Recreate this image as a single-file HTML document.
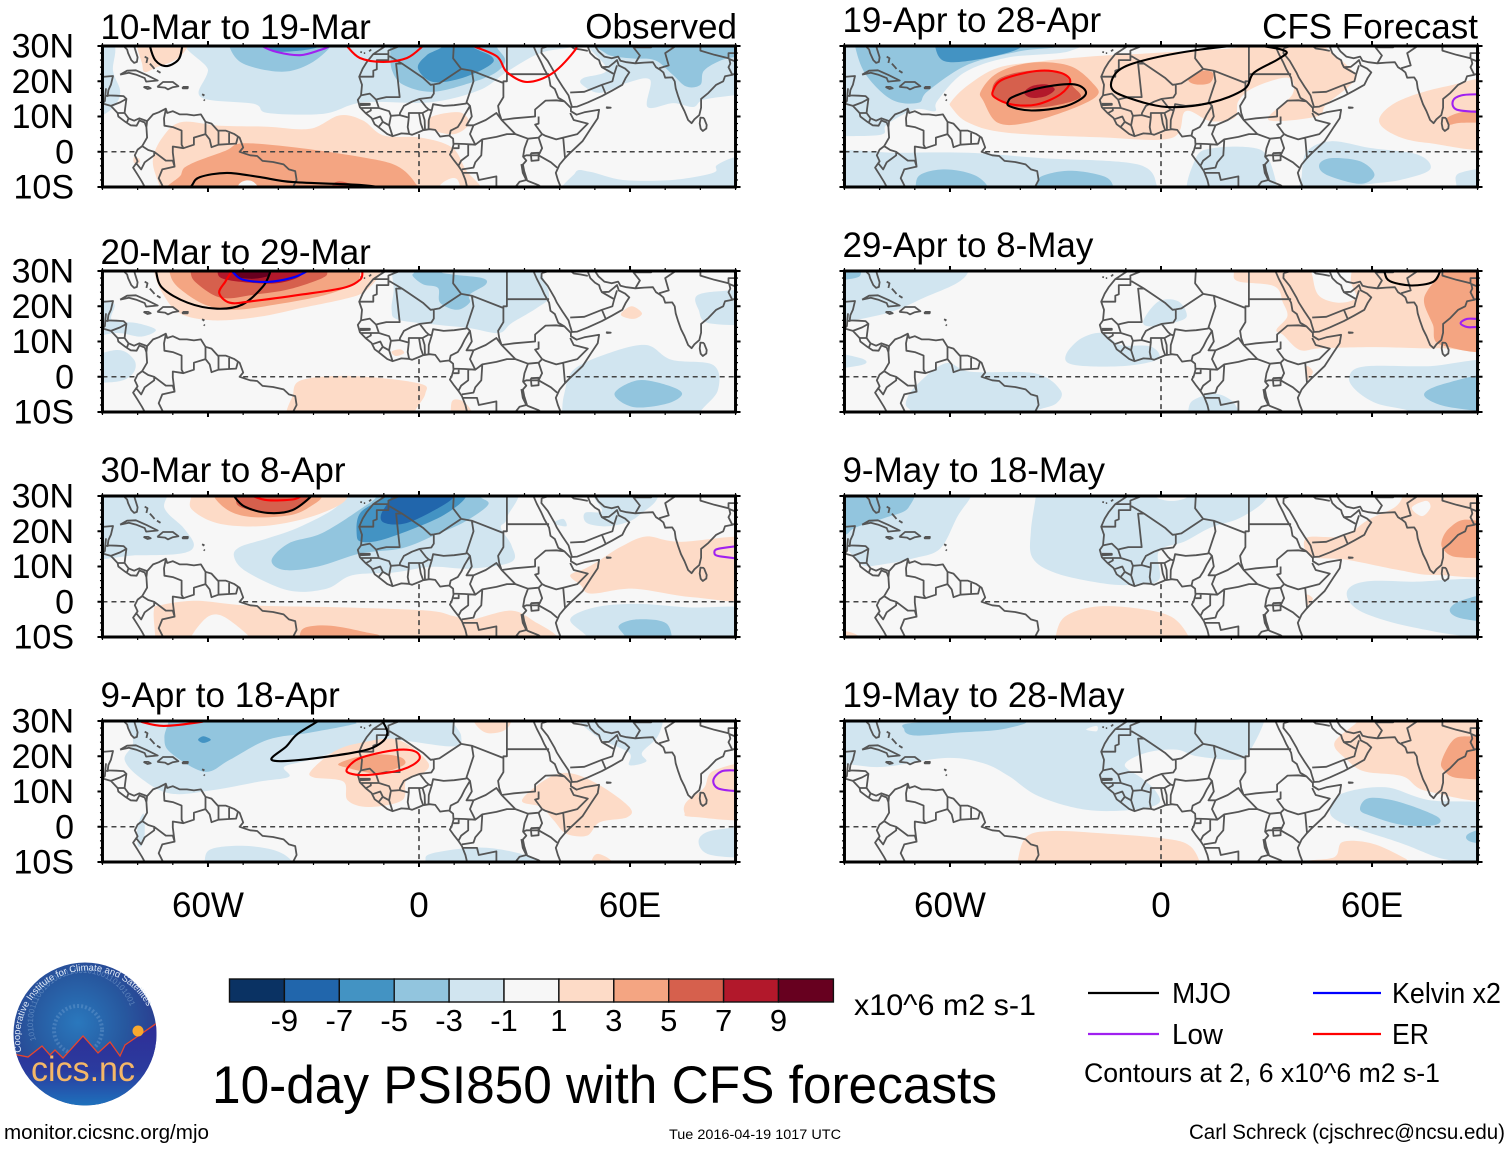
<!DOCTYPE html>
<html lang="en">
<head>
<meta charset="utf-8">
<title>10-day PSI850 with CFS forecasts</title>
<style>
html,body{margin:0;padding:0;background:#fff}
svg{display:block}
text{font-family:"Liberation Sans",sans-serif;fill:#000}
</style>
</head>
<body>
<svg id="chart" xmlns="http://www.w3.org/2000/svg" width="1510" height="1149" viewBox="0 0 1510 1149">
  <rect width="1510" height="1149" fill="#fff"/>
  <g id="panels"></g>
  <text x="737" y="38.5" font-size="35" text-anchor="end">Observed</text>
  <text x="1478" y="38.5" font-size="35" text-anchor="end">CFS Forecast</text>

  <g id="colorbar"></g>
  <text x="854" y="1015" font-size="30" textLength="182" lengthAdjust="spacingAndGlyphs">x10^6 m2 s-1</text>

  <g>
    <line x1="1088" x2="1159" y1="993" y2="993" stroke="#000" stroke-width="2.2"/>
    <text x="1172" y="1003" font-size="29" textLength="59" lengthAdjust="spacingAndGlyphs">MJO</text>
    <line x1="1313" x2="1381" y1="993" y2="993" stroke="#0000ff" stroke-width="2.2"/>
    <text x="1392" y="1003" font-size="29" textLength="109" lengthAdjust="spacingAndGlyphs">Kelvin x2</text>
    <line x1="1088" x2="1159" y1="1034" y2="1034" stroke="#a020f0" stroke-width="2.2"/>
    <text x="1172" y="1044" font-size="29" textLength="51" lengthAdjust="spacingAndGlyphs">Low</text>
    <line x1="1313" x2="1381" y1="1034" y2="1034" stroke="#ff0000" stroke-width="2.2"/>
    <text x="1392" y="1044" font-size="29" textLength="37" lengthAdjust="spacingAndGlyphs">ER</text>
    <text x="1084" y="1082" font-size="27" textLength="356" lengthAdjust="spacingAndGlyphs">Contours at 2, 6 x10^6 m2 s-1</text>
  </g>

  <text x="212" y="1103" font-size="53" textLength="785" lengthAdjust="spacingAndGlyphs">10-day PSI850 with CFS forecasts</text>
  <a><text x="4" y="1139" font-size="20.5" textLength="205" lengthAdjust="spacingAndGlyphs">monitor.cicsnc.org/mjo</text></a>
  <text x="669" y="1139" font-size="14" textLength="172" lengthAdjust="spacingAndGlyphs">Tue 2016-04-19 1017 UTC</text>
  <text x="1189" y="1139" font-size="21" textLength="316" lengthAdjust="spacingAndGlyphs">Carl Schreck (cjschrec@ncsu.edu)</text>

  <g>
    <defs>
      <radialGradient id="logoSky" cx="0.45" cy="0.42" r="0.6">
        <stop offset="0" stop-color="#2a78bd"/>
        <stop offset="0.55" stop-color="#27589f"/>
        <stop offset="1" stop-color="#2b3a8e"/>
      </radialGradient>
      <linearGradient id="logoGround" x1="0" y1="0" x2="0" y2="1">
        <stop offset="0" stop-color="#2f2d96"/>
        <stop offset="0.55" stop-color="#2b3b9e"/>
        <stop offset="1" stop-color="#1c78c0"/>
      </linearGradient>
      <clipPath id="logoClip"><circle cx="85" cy="1034" r="71.5"/></clipPath>
      <path id="logoArc" d="M 21.5 1052 A 66 66 0 1 1 153.5 1024"/>
      <path id="logoSpiral" d="M 36 1040 A 50 50 0 1 1 130 1040"/>
    </defs>
    <circle cx="85" cy="1034" r="71.5" fill="url(#logoSky)"/>
    <g clip-path="url(#logoClip)">
      <circle cx="78" cy="1030" r="24" fill="none" stroke="#7fa9d6" stroke-opacity="0.35" stroke-width="4" stroke-dasharray="2 2"/>
      <text font-size="8" style="fill:#8fb3dc" fill-opacity="0.5"><textPath href="#logoSpiral">101010011100101001110010100110101001</textPath></text>
      <path d="M 10 1053 L 18 1055 L 28 1057 L 42 1046 L 50 1055 L 55 1050 L 63 1058 L 83 1036 L 98 1053 L 110 1042 L 120 1056 L 125 1045 L 157 1023 L 165 1110 L 5 1110 Z" fill="url(#logoGround)"/>
      <path d="M 10 1053 L 18 1055 L 28 1057 L 42 1046 L 50 1055 L 55 1050 L 63 1058 L 83 1036 L 98 1053 L 110 1042 L 120 1056 L 125 1045 L 157 1023" fill="none" stroke="#e8452c" stroke-width="1.3"/>
    </g>
    <circle cx="138" cy="1031" r="5.5" fill="#f9a92f"/>
    <text font-size="9.4" style="fill:#dfe9f6"><textPath href="#logoArc">Cooperative Institute for Climate and Satellites</textPath></text>
    <text x="31" y="1081" font-size="35" textLength="104" lengthAdjust="spacingAndGlyphs" style="fill:#f5b767">cics.nc</text>
  </g>
</svg>

<script>
// ---- shared bounds beyond the frame, so shapes run off the clipped map edge ----
const W = -97, E = 97, N = 34, S = -14;

// ---- axis tick values ----
const latTicks = [30, 20, 10, 0, -10];
const latTickLabels = ['30N', '20N', '10N', '0', '10S'];
const lonTicks = [-60, 0, 60];
const lonTickLabels = ['60W', '0', '60E'];

// ---- colour scale ----
const colorbarBounds = [-9, -7, -5, -3, -1, 1, 3, 5, 7, 9];
const colorbarLabels = ['-9', '-7', '-5', '-3', '-1', '1', '3', '5', '7', '9'];
const colorbarColors = ['#0a3263', '#2166ac', '#4393c3', '#92c5de', '#d1e5f0', '#f7f7f7', '#fddbc7', '#f4a582', '#d6604d', '#b2182b', '#67001f'];

// ---- panel titles ----
const panelTitles = ['10-Mar to 19-Mar', '20-Mar to 29-Mar', '30-Mar to 8-Apr', '9-Apr to 18-Apr', '19-Apr to 28-Apr', '29-Apr to 8-May', '9-May to 18-May', '19-May to 28-May'];

// ---- filled contours: [level, [[lon, lat], ...]] ----
const panel1Fills = [
  [-1, [[-59, N], [-60, 23], [-62, 15.5], [-47, 13.6], [-43, 11], [-27, 10.8], [-16, 14], [3, 14], [17, 17.4], [25, 22.7], [34.4, 28], [43.8, 30], [44, N]]],
  [-1, [[47, N], [48, 30], [53.4, 23.2], [46.7, 20.9], [46.4, 19], [51.5, 16.7], [59, 19.5], [65.7, 20.4], [65, 12.7], [72.3, 13.8], [78, 12.7], [80.8, 14.7], [89.3, 16], [E, 17], [E, N]]],
  [-1, [[W, N], [-87, 31], [-87, 23], [-85, 17.5], [-86, 13.8], [-90, 10.4], [W, 9]]],
  [-1, [[44, S], [44.4, -6], [48.6, -5.7], [58, -8], [72, -8], [83.6, -6], [84.7, -3.8], [90, -1.5], [E, -1], [E, S]]],
  [-3, [[-54, N], [-54, 30], [-50, 25], [-39, 22.7], [-31, 25], [-25, 30], [-24, N]]],
  [-3, [[50, N], [53, 28], [60, 26.5], [67, 26], [72, 22], [76, 18.5], [80, 19], [81, 23], [86, 26], [91, 27], [E, 27], [E, N]]],
  [-3, [[-8.2, N], [-8.2, 28.9], [-7.7, 23.2], [-4.5, 19], [4, 17], [15.4, 19.8], [22, 22.6], [24.5, 26], [22, 30], [22, N]]],
  [-5, [[-46, N], [-42, 29], [-36, 28.5], [-28, 30], [-27, N]]],
  [-5, [[-.3, 23.7], [4, 19.8], [12.5, 21], [20.2, 24.6], [20.7, 27], [15, 30], [15, N], [7, N], [6.8, 30], [2.2, 27.4]]],
  [1, [[-80.2, N], [-80.2, 30], [-78.8, 25.2], [-78, 22.6], [-74.6, 24], [-69.4, 26], [-66, 29.4], [-65, N]]],
  [1, [[-67.6, 8.4], [-73, 4], [-75.7, -2.6], [-73.7, -10], [-73, S], [18, S], [17.6, -10], [13.5, -5.4], [9.4, 1.2], [.5, 4], [-10, 4.6], [-16, 8.9], [-22.6, 10.3], [-31, 6.5], [-43, 7.1], [-56.7, 7.4]]],
  [1, [[3.3, 9.8], [3.3, 6.5], [10, 5], [14.2, 8], [11.5, 11.2]]],
  [1, [[-81, -1.5], [-79.5, -2], [-79.5, -3.2], [-81, -3.2]]],
  [3, [[-67.6, -6.4], [-65, -3.5], [-55, .3], [-50, 2.4], [-35, 1.2], [-16, -1.6], [-6.3, -4], [-1, -9], [-.1, S], [-68, S]]],
  [0, [[-52, S], [-51, -9], [-47, -8.6], [-44, S]]],
  [0, [[6, -10.5], [8, -8], [11, -8], [12, S]]],
  [5, [[-24.5, -9.2], [-22.6, -8.4], [-19.5, -9.2], [-20, -10.5], [-24, -10.5]]]
];
const panel2Fills = [
  [-1, [[-7.8, N], [-7.8, 30], [-7.2, 24.8], [-7.8, 19], [-6, 16.2], [4.8, 14.8], [14.4, 13.8], [22.7, 12.4], [26.3, 15.2], [33.5, 19.5], [37, 22.9], [34.7, 30], [34.7, N]]],
  [-1, [[W, 21.4], [-87, 21], [-87.3, 16.2], [-80, 15.2], [-74.8, 13.3], [-79, 11.4], [-86, 12.4], [W, 11.4]]],
  [-1, [[W, 3.8], [-86, 7.6], [-81, 4.8], [-81.3, 1], [-86, -1.4], [W, -1]]],
  [-1, [[79.5, 19], [79, 23], [86, 24.3], [E, 24], [E, 15.7], [82.5, 15.2]]],
  [-1, [[40.7, S], [40.7, -10], [41.3, -4.8], [44, 2], [54, 6.7], [64.6, 9], [71.8, 4.8], [83.7, 3.3], [85, -3.8], [80, -10], [80, S]]],
  [-3, [[55.6, -4.8], [62.2, -1], [70.6, -2.4], [74.8, -4.8], [70.6, -7.6], [61, -8.6]]],
  [-3, [[-1.8, 28.6], [1.2, 26.2], [5.4, 25.2], [6, 21], [10.8, 19], [14.4, 21], [14.4, 23.3], [19, 26.2], [18, 28], [9.6, 29], [6, 30], [6, N], [-1.2, N], [-1.2, 30]]],
  [1, [[-37.7, S], [-37.7, -10], [-36, -5.7], [-33.5, -1], [-19, .2], [0, -1.9], [1.8, -4.8], [-1.2, -10], [-1.2, S]]],
  [1, [[9, S], [9, -10], [9.6, -6.7], [12.5, -7], [15, -10], [15, S]]],
  [1, [[57.4, 17.6], [60.4, 20], [63.4, 18], [61, 16.4]]],
  [1, [[-7.8, 7.1], [-5.4, 7.8], [-4.2, 6.7], [-6.6, 5.9]]],
  [1, [[-75.4, N], [-75.4, 30], [-73, 23.8], [-68, 18], [-58.6, 16], [-45.5, 17], [-33.5, 19.5], [-21.5, 22], [-16, 23.8], [-12, 27.6], [-10.8, 30], [-10.8, N]]],
  [3, [[-71, N], [-71, 30], [-68.8, 25.7], [-61, 20.5], [-52.6, 19], [-40.7, 20.5], [-26.3, 23.3], [-18, 26.7], [-16.7, 30], [-16.7, N]]],
  [5, [[-65, N], [-65, 30], [-63.4, 26.7], [-56.2, 22.4], [-46.7, 23.3], [-37, 24.8], [-27.5, 28], [-26, 30], [-26, N]]],
  [7, [[-57.4, N], [-57.4, 30], [-55, 27.6], [-43, 26.4], [-36, 27.5], [-32.3, 30], [-32, N]]],
  [9, [[-53, N], [-52.6, 29], [-48, 27.8], [-43, 28.5], [-42, 30], [-42, N]]]
];
const panel3Fills = [
  [-1, [[W, N], [-72.4, N], [-72.4, 26.6], [-67, 21], [-64, 16.1], [-67.6, 13.7], [-80, 13.2], [W, 13.7]]],
  [-1, [[-21.5, N], [-22.7, 27.6], [-33.5, 21.4], [-43, 18], [-50.8, 15.6], [-52.6, 12.8], [-49, 8.5], [-37, 3.2], [-26.3, 3.7], [-19, 7.5], [-7.2, 8.3], [3.6, 9.9], [14.4, 9.4], [26.3, 11.3], [26.3, 16], [23.3, 21], [25, 23.8], [25, N]]],
  [-1, [[49.6, N], [49.6, 30], [52, 25.7], [47.2, 25.2], [47.8, 22.3], [53.8, 21.4], [59.8, 22.8], [63.4, 25.2], [67.6, 29], [67.6, N]]],
  [-1, [[38.3, 22.3], [41.9, 21.4], [41, 23.5]]],
  [-1, [[43, -5], [50, -1.6], [62, -.6], [76.5, -1.6], [E, -2.5], [E, S], [47.8, S], [47.8, -10]]],
  [-3, [[-41.9, 11.8], [-38.3, 9], [-28.7, 10], [-16.7, 13.7], [-4.8, 15.2], [4.8, 19], [13.2, 22.8], [19.7, 27.6], [17.3, 30], [17.3, N], [-12, N], [-12, 30], [-16, 26.7], [-27.5, 19.5], [-37, 16.6]]],
  [-3, [[56.8, -6.8], [62, -5], [70.6, -6.4], [70.6, S], [58.6, S], [58.6, -10]]],
  [-5, [[-17.7, 19], [-16.3, 17], [-10.8, 17.5], [-1.2, 20.9], [7.2, 24.7], [13.2, 29.5], [13.2, N], [-9.6, N], [-9.6, 30], [-16.7, 25.2]]],
  [-7, [[-10.8, 24.7], [-9.6, 22.3], [-3.6, 22.3], [4.8, 26.2], [10.2, 30], [10.2, N], [-7.8, N], [-7.8, 30]]],
  [1, [[-64.8, N], [-64.8, 30], [-64.6, 26.2], [-57.4, 22.3], [-45.5, 21.4], [-33.5, 23.3], [-24, 26.7], [-20.3, 29.7], [-20.3, N]]],
  [1, [[43, 7.5], [47.2, 9.4], [51.4, 11.8], [57.4, 15.6], [64.6, 18.5], [74, 17], [E, 17.5], [E, 1.3], [77.8, 1.3], [61, 3.7], [49, 2.3], [46, 4.7]]],
  [1, [[-75.4, -2.5], [-73.6, -1], [-63.4, .3], [-49, -1], [-21.5, -1.6], [2.4, -2.5], [9.6, -4], [15, -5], [26.3, -2.5], [33.5, -6], [39.5, -10], [40, S], [-75, S], [-75, -10]]],
  [0, [[-65, S], [-61, -5], [-55, -4.5], [-46, S]]],
  [3, [[-58.4, N], [-58.4, 30], [-53.8, 25.7], [-46.7, 24], [-36, 24.7], [-30, 27.6], [-27.5, 30], [-27.5, N]]],
  [3, [[-34, S], [-34, -10], [-32.3, -7.3], [-25, -6.8], [-14.4, -8.8], [-10.8, -10], [-10.8, S]]],
  [5, [[-52, N], [-52, 30], [-51, 27], [-43, 25.2], [-34.7, 26.7], [-30.5, 30], [-30.5, N]]]
];
const panel4Fills = [
  [-1, [[-83, N], [-83, 30], [-81.3, 23.8], [-83.7, 19], [-79, 13.7], [-70.6, 9.4], [-58.6, 10.4], [-45.5, 12.8], [-37, 14.2], [-38.3, 17], [-31, 19], [-16.7, 23.3], [-7.2, 24.7], [9.6, 22.8], [12, 25.7], [9.6, 30], [9.6, N]]],
  [-1, [[45.5, N], [45.5, 30], [52, 24.7], [59.8, 21], [59.8, 17.5], [64.6, 18.5], [63.4, 21], [67.6, 25.2], [69.4, 30], [69.4, N]]],
  [-1, [[-80, 0], [-78.3, 3.7], [-78, -2], [-78.9, -5.4], [-80, -5]]],
  [-1, [[-61, S], [-61, -10], [-59.2, -6.4], [-50.2, -5.4], [-40.7, -6.8], [-36, -10], [-36, S]]],
  [-1, [[1.8, S], [1.8, -10], [3.6, -7.6], [16.7, -5.9], [27.5, -7.3], [34, -10], [34, S]]],
  [-1, [[79.5, -4], [83.7, -1], [E, -.6], [E, -8], [83, -8]]],
  [-3, [[-72.4, 25.2], [-70.6, 21], [-61, 15.6], [-53.8, 19], [-43, 24.7], [-31, 26.7], [-19, 29], [-18, 30], [-18, N], [-71.2, N], [-71.2, 30]]],
  [-5, [[-62.8, 24.7], [-61.3, 25.7], [-59.2, 24.7], [-61.3, 23.8]]],
  [1, [[-30.5, 16.1], [-24, 21.4], [-16.7, 23.8], [-6, 24.7], [2.4, 18.5], [1.2, 15.2], [-3.6, 13.2], [-4.8, 7.5], [-14.4, 5.6], [-20.3, 7.5], [-21.5, 12.8], [-30, 14]]],
  [1, [[15.5, N], [15.5, 30], [19, 26.7], [24, 27.2], [26.3, 30], [26.3, N]]],
  [1, [[E, 17.5], [84, 16], [81, 11], [76, 7], [75.5, 4], [78, 2.8], [E, 3]]],
  [1, [[29.3, 7.5], [36.5, 13.7], [43, 15.2], [51.4, 11.8], [59.8, 5.6], [59.2, 2.7], [51.4, 1.3], [47.8, -2.5], [41.9, -2], [38.3, 1.8], [34.7, 5.6]]],
  [1, [[49, S], [49, -10], [50.8, -7.7], [55, -10], [55, S]]],
  [3, [[-22.7, 18], [-14.4, 20.4], [-6, 20], [-4.2, 17.6], [-12, 15.2], [-20.3, 16.7]]]
];
const panel5Fills = [
  [-1, [[W, N], [-24, N], [-25.8, 28.6], [-43.7, 26.7], [-56, 22.4], [-63.6, 14.4], [-64.3, 11.5], [-70, 12], [-78, 7.7], [-79.4, 4.9], [-90, 4.4], [W, 4.4]]],
  [-1, [[W, -.6], [-75, -.3], [-54.7, -.3], [-34, -1.8], [-6.6, -3.6], [-1, -10], [-1, S], [W, S]]],
  [-1, [[9, S], [9.9, -1.8], [15.4, 1.1], [26.4, 1.1], [30.5, -1.8], [33, -10], [33, S]]],
  [-1, [[40, S], [40, -7], [41.5, .1], [48.4, 3], [59.3, 1.1], [73, -.8], [76.5, -5], [68, -8], [55, -10], [55, S]]],
  [-1, [[84, -10], [85, -6], [E, -5], [E, S], [84, S]]],
  [-3, [[-87, N], [-87, 30], [-84, 22], [-76.6, 14.8], [-69, 13.9], [-66.3, 17.2], [-54.7, 24.8], [-39.6, 28.6], [-28.6, 30], [-28.6, N]]],
  [-3, [[45, -3.6], [48.4, -1.8], [56.6, -2.7], [60.7, -6.5], [56.6, -9.1], [47, -6.5]]],
  [-3, [[-69.8, S], [-69.8, -10], [-68.4, -6.5], [-61.5, -5], [-53.3, -6.5], [-49.2, -10], [-49.2, S]]],
  [-3, [[-35.4, S], [-35.4, -10], [-34, -7], [-25.8, -5.4], [-16.2, -7], [-13.5, -10], [-13.5, S]]],
  [-5, [[-64.3, N], [-64.3, 30], [-61.5, 25.7], [-52, 26.2], [-40, 29.5], [-40, N]]],
  [1, [[-59.5, 14.4], [-54.7, 19], [-46.4, 23.8], [-34, 25.7], [-17.6, 27.2], [-2.5, 28], [25, 30], [25, N], [40, N], [48, 28.6], [55.2, 22], [53.9, 19], [47, 13.4], [44.2, 10], [30.5, 9.1], [37.4, 16.3], [36, 21], [26.4, 18.2], [22, 14.4], [20.9, 9.6], [14, 8.7], [7, 11.5], [3, 3.9], [-17.6, 4.1], [-43.7, 5.4], [-54.7, 8.2], [-59.5, 12.5]]],
  [1, [[62, 9.1], [67.6, 14.4], [81.3, 18.6], [E, 20], [E, 1.6], [75.8, 2.5], [66.2, 4.9]]],
  [3, [[-50.5, 14.4], [-51.2, 17.2], [-46.4, 22.4], [-36.8, 25.3], [-25.8, 24.3], [-19, 19], [-18.3, 15.8], [-25.8, 12], [-38, 8.2], [-46.4, 8.2]]],
  [3, [[7.8, 20.5], [11.3, 22.9], [14.7, 22.4], [14, 19.6], [9.9, 19.1]]],
  [3, [[81.3, 9.6], [86.8, 11.5], [E, 12], [E, 8.7], [85.4, 8.2], [82, 7.7]]],
  [5, [[-47.8, 16.3], [-46.4, 20.5], [-38.2, 22.9], [-28.6, 22.4], [-25.1, 18.6], [-23, 15.3], [-31.3, 12.9], [-39.6, 12.5], [-43.7, 13.4]]],
  [7, [[-38.9, 16.7], [-36.8, 18.6], [-32.7, 19.1], [-30.2, 17.7], [-32.7, 15.8], [-36.8, 15.3]]]
];
const panel6Fills = [
  [-1, [[W, 16.7], [-79.7, 17.6], [-66.3, 22.9], [-57.8, 26.7], [-54.7, 30], [-54.7, N], [W, N]]],
  [-1, [[W, 7.1], [-85.2, 5.2], [-85.2, 3.3], [W, 2.4]]],
  [-1, [[-4.9, 16.2], [-.6, 21.4], [4.9, 21.4], [7.3, 17.1], [3, 15.2], [-3.6, 14.3]]],
  [-1, [[-26.8, 6.7], [-22.5, 11], [-16.4, 12.4], [-11.6, 9], [-3, 8.6], [-.6, 5.2], [-7.9, 3.3], [-18.9, 2.9], [-26.2, 3.8]]],
  [-1, [[-72.6, -7.6], [-70, -2.9], [-61.4, 3.8], [-54, 1.4], [-35.9, 1], [-28.6, -3.8], [-29.8, -7.6], [-35.9, -10], [-36, S], [-71, S], [-71, -10]]],
  [-1, [[7.7, S], [7.7, -10], [9.1, -6.7], [15.2, -4.8], [20, -6.7], [22, -10], [22, S]]],
  [-1, [[53.5, 0], [57.8, 2.9], [76, 3], [E, 3.8], [E, S], [71.2, S], [71.2, -10], [61.4, -7.6], [55.4, -3.8]]],
  [-3, [[W, N], [W, 27.6], [-87, 28], [-85.2, 30], [-85.2, N]]],
  [-3, [[74.8, -5.2], [80.9, -1.9], [E, .8], [E, -9], [82, -8.6]]],
  [1, [[20.7, N], [20.7, 30], [21.9, 27.1], [32.2, 25.7], [34.7, 21], [35.9, 17.1], [32.8, 13.3], [34.7, 11.9], [39.5, 7.6], [45.6, 8.1], [61.4, 8.4], [78.5, 8.1], [E, 9.5], [E, N]]],
  [0, [[43.2, 28], [45, 22.9], [50.5, 21], [55.4, 22.4], [54, 27], [53.5, N], [43, N]]],
  [1, [[41.4, -1], [41.4, 3], [43.2, 1.4]]],
  [3, [[74.8, 21], [76, 24.8], [79.7, 29.5], [80, N], [E, N], [E, 9], [79.7, 9], [77.3, 14.8]]]
];
const panel7Fills = [
  [-1, [[W, N], [-54, N], [-54, 30], [-57.8, 24.3], [-62.7, 15.2], [-70, 12.4], [-79.7, 10.5], [-85, 10.5], [-90, 15.2], [W, 15.2]]],
  [-1, [[-35.6, N], [-35.6, 30], [-37, 20], [-36.5, 12.4], [-29.8, 8.1], [-16.4, 5.2], [-7.9, 4.8], [-.6, 6.2], [-.6, 14.3], [6.7, 17.1], [14, 21], [22.5, 23.8], [29.8, 29], [29.8, N]]],
  [0, [[-1.8, N], [-1.8, 30], [3, 28.6], [7.9, 30], [7.9, N]]],
  [-1, [[52.9, 2.9], [57.8, 5.7], [71.2, 5.7], [E, 4.8], [E, S], [90, -10.5], [78.5, -8.6], [65, -5.7], [55.4, -1.9]]],
  [-3, [[W, N], [-71.8, N], [-71.8, 26.7], [-78.5, 23.8], [-87, 21], [-90, 19], [W, 19]]],
  [-3, [[82.1, -2.4], [85.8, .5], [E, 2.4], [E, -5.2], [85.8, -4.8]]],
  [1, [[41.4, 18.1], [51.7, 18.6], [59, 23.3], [66.3, 26.7], [68.7, 30], [68.7, N], [E, N], [E, 9.5], [78.5, 7.6], [67.5, 9], [52.9, 11.9], [42.6, 12.9]]],
  [0, [[71.3, 26.7], [75.4, 28.6], [76.6, 26.7], [74.2, 24.3]]],
  [1, [[-30, S], [-30, -10], [-27.4, -4.3], [-18.9, -1.4], [-6.7, -1.9], [3, -4.3], [7.9, -10], [7.9, S]]],
  [1, [[W, -8.3], [-90, -8.3], [-85.8, -10], [-85.8, S], [W, S]]],
  [1, [[41.4, -1], [41.4, 2], [43.2, .8]]],
  [3, [[79.9, 17.6], [82.1, 21], [87, 23.3], [E, 20.5], [E, 13.3], [84.6, 12.6], [80.3, 14.8]]]
];
const panel8Fills = [
  [-1, [[W, N], [29.2, N], [29.2, 29.5], [24.9, 21], [21.3, 19], [10.3, 20], [4.3, 21.9], [-4.2, 21], [-10.3, 17.6], [-5.5, 13.8], [-1.8, 10.5], [-.6, 6.7], [-7.9, 4.8], [-21.3, 4.8], [-34.7, 8.6], [-43.2, 14.3], [-50.5, 18], [-61.4, 19.5], [-78.5, 17], [-88, 17.6], [W, 18]]],
  [0, [[-21.3, 27.6], [-18.3, 28.6], [-18.3, 27.1]]],
  [-1, [[48, 4.8], [51.7, 9.5], [63.9, 11.2], [76, 7.6], [E, 4.8], [E, S], [90, -10.5], [79.7, -9], [68.7, -4.8], [51.7, .95]]],
  [-3, [[-73, 27.6], [-70, 29.5], [-39.5, 30], [-45.6, 27.6], [-57.8, 26.7], [-70, 25.9]]],
  [-3, [[56.6, 4.8], [59, 8.1], [67.5, 7.1], [78.5, 2.9], [77.9, .5], [68.7, .5], [60.2, 2.9]]],
  [-3, [[87.6, -1.9], [E, .5], [E, -4.8], [88.2, -4.3]]],
  [1, [[57, N], [56, 30], [49.3, 23.8], [52.9, 19], [57.8, 15.7], [68.7, 14.3], [76, 10], [E, 9], [E, N]]],
  [1, [[-40.8, S], [-40.8, -10], [-38.3, -2.9], [-31, -1.2], [-16.4, -1.9], [.6, -3.3], [7.9, -5.2], [11, -10], [11, S]]],
  [1, [[40.8, S], [40.8, -10], [49.3, -8.6], [51.7, -4.3], [60.2, -4.8], [68.7, -8.6], [70, -10], [70, S]]],
  [3, [[79.9, 19], [83.3, 24.8], [88.2, 25.7], [E, 25.7], [E, 14.8], [84.6, 13.8], [80.3, 16.2]]]
];

// ---- line contours: [series, closed, [[lon, lat], ...]] ----
const panel1Contours = [
  ['MJO', true, [[-77, N], [-76.5, 30], [-75, 26], [-72, 24.3], [-68.5, 26], [-67.4, 29.5], [-67, N]]],
  ['MJO', false, [[-65.5, -11], [-64.5, -9.4], [-62.3, -7.2], [-54.6, -6], [-45.2, -7.2], [-35.8, -8.6], [-16.8, -9.4], [-8, -10.5]]],
  ['ER', false, [[-21, 31], [-20.5, 30], [-16.8, 26.6], [-10.2, 25.5], [-3.4, 26.6], [1.1, 30], [2, 31]]],
  ['ER', false, [[14, 31], [15.4, 30], [22.2, 27], [25, 22.6], [30.7, 19.8], [38, 22.3], [44.4, 28.9], [44.4, 31]]],
  ['Low', false, [[-45, 31], [-44.6, 30], [-40.4, 28.3], [-33.8, 27.4], [-28, 28.9], [-25.3, 30], [-24, 31]]]
];
const panel2Contours = [
  ['MJO', false, [[-75, 31], [-74.8, 30], [-73, 25.2], [-65.8, 21], [-57.4, 19.3], [-50.2, 20.5], [-44.3, 25.7], [-42.2, 30], [-42, 31]]],
  ['ER', false, [[-16, 31], [-16.1, 30], [-16.7, 27.6], [-21.5, 25.2], [-33.5, 23.3], [-47.8, 21.4], [-53.8, 21], [-56.8, 23.8], [-55, 27.1], [-53.2, 30], [-53, 31]]],
  ['Kelvin', false, [[-54, 31], [-53.2, 30], [-50.2, 27.6], [-43, 26.9], [-36, 28.1], [-31.7, 30], [-31, 31]]]
];
const panel3Contours = [
  ['ER', false, [[-48, 31], [-47.2, 30], [-43, 28.8], [-36, 29], [-33.5, 30], [-33, 31]]],
  ['MJO', false, [[-53, 31], [-52.6, 30], [-49.6, 27], [-43, 25.2], [-36, 26], [-30.5, 30], [-30, 31]]],
  ['Low', true, [[E, 16], [86, 15.2], [84, 14], [86, 12.8], [E, 12.2]]]
];
const panel4Contours = [
  ['ER', false, [[-80, 30.5], [-78.7, 29.7], [-72.6, 28.6], [-62.2, 29.7], [-60, 30.5]]],
  ['MJO', false, [[-28, 31], [-28.7, 30], [-34.7, 26.2], [-37.7, 22.8], [-41.9, 19], [-33.5, 19], [-16.7, 21.4], [-10.8, 23.8], [-9, 26.6], [-10.2, 29.7], [-11, 31]]],
  ['ER', true, [[-20.3, 16.7], [-16.7, 19.5], [-7.2, 21.7], [-1.2, 21.4], [0, 19], [-4.8, 16.2], [-14.4, 14.7], [-19.8, 15.2]]],
  ['Low', false, [[E, 16], [90.3, 16], [86, 15.7], [83.7, 13.3], [85, 10.9], [90.3, 10.1], [E, 10]]]
];
const panel5Contours = [
  ['ER', true, [[-47.8, 17.2], [-45, 20.5], [-35.4, 22.9], [-28.6, 22.4], [-25.8, 20], [-28.6, 16.3], [-35.4, 13.4], [-42.3, 13.4], [-47.1, 15.3]]],
  ['MJO', true, [[-43.4, 14.4], [-41.6, 15.8], [-34, 18.2], [-24.5, 19.1], [-21.4, 16.3], [-27.2, 12.9], [-36.8, 11.7], [-43, 12.9]]],
  ['MJO', true, [[-14.1, 18.2], [-12, 23.1], [-3.8, 26.2], [11.3, 29], [25, 30.2], [35.3, 28.6], [33.2, 26.2], [26.4, 22.4], [23.6, 17.7], [14, 13.9], [1.6, 12.7], [-9.3, 15.3]]],
  ['Low', false, [[E, 16.3], [90.3, 16.3], [85.4, 16], [83, 14.4], [84, 12], [90.3, 11.3], [E, 11.3]]]
];
const panel6Contours = [
  ['MJO', false, [[63.5, 31], [63.6, 29.5], [65.1, 27.1], [71.2, 25.9], [77.3, 26.9], [79.4, 30], [79.5, 31]]],
  ['Low', false, [[E, 16.4], [90, 16.4], [87, 16.4], [85.2, 15.2], [87, 14.1], [90, 14.1], [E, 14.1]]]
];
const panel7Contours = [];
const panel8Contours = [];

// ---- geography: polylines as [lon, lat] ----
const coastLines = [
  [[-84, 30], [-83, 29], [-82.7, 28], [-81.8, 26], [-81, 25.2], [-80.2, 25.5], [-80, 26.8], [-81, 30], [-81.3, 31]],
  [[-90.5, 21.2], [-87, 21.5], [-87.6, 19], [-88.3, 17.5], [-88.5, 16], [-86, 15.9], [-84, 15.8], [-83.2, 15], [-83.6, 12], [-83.7, 11], [-82.6, 9.5], [-81, 8.8], [-79.5, 9.5], [-77.3, 8.7], [-75.6, 10.6], [-74, 11.2], [-72, 12.2], [-71.6, 11], [-70, 11.5], [-68, 10.6], [-66, 10.6], [-64, 10.3], [-62, 10.6], [-60.7, 8.5], [-59, 8], [-57.2, 6], [-55, 6], [-52.5, 5], [-51, 4], [-50, 1.2], [-51, 0], [-49, -.7], [-48, -1], [-46, -1.2], [-44.5, -2.6], [-41.5, -2.9], [-38.5, -3.6], [-37, -5], [-35.2, -5.5], [-34.8, -8], [-36, -10.3]],
  [[-92, 14], [-90, 13.7], [-87.6, 13], [-85.7, 11], [-85.5, 10], [-83.5, 8.5], [-82, 7.5], [-80.3, 7.4], [-79.5, 8.9], [-78, 8.3], [-77.5, 7], [-77.3, 4], [-78.7, 1.6], [-80, .6], [-80.8, -1], [-80, -2.7], [-81.3, -4.5], [-80, -6.5], [-78.8, -8.5], [-77.8, -10.3]],
  [[-9.6, 31], [-9.8, 29.8], [-13, 27.7], [-14.8, 25.5], [-16, 23.6], [-17, 21.3], [-16.2, 19], [-16.5, 16], [-17.4, 14.7], [-16.8, 12.6], [-15.2, 11], [-13.5, 9.6], [-12.6, 7.8], [-11.4, 6.9], [-9, 5], [-7.5, 4.4], [-5, 5.2], [-3, 5.1], [-2, 4.8], [0, 5.6], [1.2, 6.1], [3, 6.4], [4.6, 6.2], [6, 4.3], [7.5, 4.5], [8.6, 4.6], [9.7, 3.7], [9.8, 2], [9.4, .5], [8.8, -.8], [10, -2.5], [11.2, -4], [12.2, -5.5], [13.2, -8], [13.8, -10.5]],
  [[32.5, 31], [32.6, 29.8], [33.5, 27.8], [34.7, 25.5], [35.6, 23.5], [37, 21], [37.4, 18.7], [38.6, 17.8], [39.6, 15.3], [41.3, 14.3], [43.2, 12.4], [43.2, 11.5], [44.8, 10.5], [47, 11.2], [51.2, 11.9], [50.8, 9.5], [49, 6.8], [46.5, 3], [43, -.3], [41.5, -1.8], [40, -3.6], [38.9, -6], [39.5, -8], [40.5, -10.5]],
  [[34.9, 29.4], [34.8, 28], [36.6, 25.8], [38.5, 22.5], [39.2, 21], [40.8, 18.5], [42.5, 16], [42.9, 14.6], [43.5, 12.7], [45, 12.8], [48, 14], [52, 15.8], [55, 17.4], [57.8, 19], [58.8, 21], [59.8, 22.5], [58.6, 23.6], [56.8, 24.5], [56.3, 26], [55.5, 25.3], [54, 24.1], [52, 24], [51.5, 25], [51.2, 26], [50, 26.7], [48.7, 28], [48, 29.8], [48.6, 30]],
  [[48.6, 30], [50, 30], [51, 28.5], [52.7, 27], [54.8, 26.5], [56.6, 27], [57.3, 25.8], [59, 25.4], [61.5, 25.1], [64, 25.3], [66.5, 25.4], [67.4, 24], [68.5, 23.3], [69.5, 22.5], [70, 21], [72, 21.1], [72.7, 20], [73, 18], [73.6, 16], [74.5, 13.5], [75.5, 11.5], [76.5, 9], [77.5, 8.1], [78.3, 9.2], [79.7, 10.4], [80.2, 12.5], [80.2, 15], [82.3, 16.7], [84.5, 19], [86.5, 20], [87, 21.4], [89, 21.8], [91, 22.6], [92, 21]],
  [[81, 9.6], [80, 9.7], [79.8, 8], [80.1, 6.5], [80.7, 5.9], [81.7, 6.6], [81.8, 7.6], [81, 9.6]],
  [[-85, 21.9], [-83, 23], [-80.5, 23.1], [-77.5, 21.8], [-74.3, 20.2], [-77.6, 19.9], [-78, 20.9], [-80.5, 21.9], [-82.5, 22.4], [-85, 21.9]],
  [[-74.4, 18.4], [-72.8, 19.8], [-70, 19.8], [-68.4, 18.6], [-70, 18.3], [-71.4, 17.7], [-72.2, 18.2], [-74.4, 18.4]],
  [[-78.3, 18.4], [-77, 18.4], [-76.3, 18], [-77.2, 17.8], [-78.3, 18.4]],
  [[-67.2, 18.4], [-65.7, 18.4], [-65.8, 18], [-67.2, 18], [-67.2, 18.4]],
  [[-78, 27], [-77.2, 26.5], [-77.5, 25.2]],
  [[-76.5, 25], [-75.6, 24], [-75.2, 23.5]],
  [[-74.5, 23], [-73.5, 22.4]],
  [[-61.7, 16.3], [-61.2, 16.1], [-61.5, 15.9]],
  [[-61.2, 14.8], [-60.9, 14.5]],
  [[-16.7, 28.3], [-16.2, 28.2]],
  [[-15.7, 28], [-15.3, 28]],
  [[-14.2, 28.5], [-13.6, 29]],
  [[53.2, 12.6], [54.5, 12.5], [53.5, 12.4], [53.2, 12.6]]
];
const borderLines = [
  [[-13, 27.7], [-8.7, 27.7], [-8.7, 26], [-12, 26], [-12, 23.4], [-13, 23], [-13, 21.3], [-17, 21.3]],
  [[-8.7, 27.7], [-8.7, 28.7], [-5.5, 30], [-3, 31]],
  [[-8.7, 27.3], [-4.8, 25], [-6.5, 25], [-5.5, 15.5], [-9.3, 15.5], [-11.5, 15], [-12.2, 14.8]],
  [[-4.8, 25], [1.1, 21], [3.3, 19], [4.2, 19.1], [5.8, 19.4], [12, 23.5], [9.7, 26.5], [9.9, 30], [9, 31]],
  [[12, 23.5], [15, 23], [24, 19.5], [24, 20], [25, 20], [25, 31]],
  [[25, 22], [37, 22]],
  [[24, 19.5], [24, 15.5], [22.5, 13], [22.8, 11], [23.5, 9], [27.4, 5]],
  [[15, 23], [15.5, 20], [13.5, 14], [14.5, 13]],
  [[4.2, 19.1], [4.2, 16.5], [3.5, 15.4], [.2, 15]],
  [[-16.5, 16], [-14, 16.5], [-12.2, 14.8], [-11.4, 12.4], [-8.5, 11.5], [-8, 10.2], [-8.5, 7.5], [-7.5, 4.4]],
  [[-16.7, 12.4], [-11.4, 12.4]],
  [[-16.8, 13.6], [-14, 13.6], [-14, 13.3], [-16.8, 13.2]],
  [[-13.7, 12.4], [-13.7, 11.7], [-15, 11]],
  [[-13.3, 9.2], [-11, 10], [-10.3, 8.5], [-11.5, 7]],
  [[-10.3, 8.5], [-8.5, 7.5]],
  [[-8, 10.2], [-5.5, 10.4], [-5.4, 11], [-4.3, 13], [-2, 14.2], [.2, 15], [2, 12.7], [2.8, 12], [1, 11], [-2.9, 11], [-2.9, 9.7], [-5.5, 10.4]],
  [[-2.9, 9.7], [-3.2, 7], [-2.8, 5]],
  [[0, 11], [.5, 8], [1.2, 6.1]],
  [[1, 11], [1.6, 9], [1.7, 6.2]],
  [[2.7, 6.3], [2.8, 9], [3.6, 11.7], [2.8, 12]],
  [[3.6, 11.7], [4, 13.5], [7, 13], [10, 13.2], [13.5, 13.7]],
  [[8.7, 4.7], [9, 6], [11, 7], [12, 8.5], [13, 10.5], [14.5, 13], [15, 10], [13.5, 7.5], [15.5, 7.5], [14.5, 5], [16, 2], [18, 3.5], [22, 4.2], [25, 5], [27.4, 5], [31, 3.7], [34, 4], [35, 1], [34, -1], [30.5, -1], [29.6, -1.4], [30, 1], [31, 3.7]],
  [[23.5, 9], [22, 11], [19, 9], [15.5, 7.5]],
  [[9.8, 2.3], [13, 2.2], [16, 2]],
  [[9.8, 1], [11.3, 1], [11.3, 2.2]],
  [[14, 2.2], [14, -1], [12, -2.5], [11.2, -4]],
  [[18, 3.5], [17.7, -1], [16, -3], [15.5, -4.5], [12.2, -5]],
  [[12.3, -6], [16.5, -6], [17, -8], [22, -7], [22, -10.5]],
  [[23.5, 9], [27, 9.5], [33, 10], [33, 12], [36, 14.5], [39, 14.6], [41.3, 14.3]],
  [[34, 10], [34, 8], [33, 7.7], [35, 5], [34, 4]],
  [[35, 5], [36, 4.5], [39, 3.5], [41, 4], [45, 5], [48, 8], [44, 9], [43, 11]],
  [[41, 4], [41.5, -1.8]],
  [[34, -1], [37.5, -3], [39.5, -4.7]],
  [[29.6, -1.4], [30.5, -2.5], [29.2, -4], [29.5, -6], [30.5, -8], [31, -8.3], [34, -9.5], [36, -11]],
  [[27, -10.5], [28.6, -8.5], [30.5, -8]],
  [[43, 16.8], [47, 17], [52, 19], [53, 16.6]],
  [[52, 19], [55, 20], [55.5, 22], [56.3, 24.5]],
  [[52, 24], [55.5, 22]],
  [[48, 28.6], [46, 29], [44, 29.3], [42, 31]],
  [[34.9, 29.4], [37, 30], [39, 32]],
  [[48.6, 30], [47.7, 31.5]],
  [[61.5, 25.1], [62.8, 27.3], [61, 29.6], [66, 29.6], [67.5, 31]],
  [[68.3, 23.7], [71, 24.5], [70, 28], [73, 30], [74.5, 32]],
  [[80, 31], [80, 28.7], [84, 27.5], [88, 26.5], [88, 28], [92, 28]],
  [[88.2, 26.4], [88.5, 25], [88, 24], [89, 22]],
  [[88, 26.4], [90, 25.6], [92.5, 25]],
  [[-89, 18], [-89.2, 15.9], [-88.3, 15.8]],
  [[-89.2, 15.9], [-89.3, 14.4], [-90, 13.7]],
  [[-87.6, 13], [-85, 14], [-83.2, 15]],
  [[-85.7, 11], [-83.7, 11]],
  [[-83, 8.4], [-82.6, 9.5]],
  [[-77.3, 8.7], [-77.5, 7]],
  [[-72, 12], [-72.5, 9.5], [-72.4, 7.4], [-70, 7], [-67.5, 6], [-67.5, 2], [-67, 1], [-64, 2], [-64, 4], [-60.7, 5], [-60.7, 8.5]],
  [[-67, 1], [-70, 1.5], [-70, -.2], [-69.5, -4.2]],
  [[-60.7, 5], [-59.5, 3.5], [-59, 1.3], [-57, 2], [-57, 6]],
  [[-57, 2], [-54, 2.2], [-52, 2.3], [-51.5, 4.2]],
  [[-54, 2.2], [-54, 5.7]],
  [[-78.7, 1.6], [-77, .5], [-75.3, 0], [-75.3, -1], [-78, -3], [-79, -5], [-80.3, -3.4]],
  [[-75.3, 0], [-72, -2.5], [-70, -2.5], [-69.5, -4.2], [-73, -5], [-74, -7.5], [-72.5, -10.5]]
];
const lakeLines = [
  [[31.8, -.4], [34, -.3], [34, -2.4], [32, -2.6], [31.8, -.4]],
  [[29.1, -3.5], [29.6, -5.5], [30.7, -8], [29.9, -5.5], [29.5, -3.5]]
];

// ---- dashed reference lines, over ocean only: [from, to] ----
const equatorSegments = [[-90, -80], [-50, 9.5], [42, 90]];
const meridianSegments = [[5, -10]];

const levelColors = { '-9': '#0a3263', '-7': '#2166ac', '-5': '#4393c3', '-3': '#92c5de', '-1': '#d1e5f0', '0': '#f7f7f7', '1': '#fddbc7', '3': '#f4a582', '5': '#d6604d', '7': '#b2182b', '9': '#67001f' };
const seriesColors = { MJO: '#000000', Kelvin: '#0000ff', Low: '#a020f0', ER: '#ff0000' };

const allFills = [panel1Fills, panel2Fills, panel3Fills, panel4Fills, panel5Fills, panel6Fills, panel7Fills, panel8Fills];
const allContours = [panel1Contours, panel2Contours, panel3Contours, panel4Contours, panel5Contours, panel6Contours, panel7Contours, panel8Contours];

const SVGNS = 'http://www.w3.org/2000/svg';
function make(tag, parent) {
  const el = document.createElementNS(SVGNS, tag);
  parent.appendChild(el);
  return el;
}
function round(v) { return Math.round(v * 10) / 10; }

// smooth path through lon/lat vertices using Catmull-Rom segments
function smoothPath(points, closed, xs, ys) {
  const px = points.map(function (p) { return [xs(p[0]), ys(p[1])]; });
  const n = px.length;
  const at = function (i) {
    if (closed) return px[(i + n) % n];
    return px[Math.max(0, Math.min(n - 1, i))];
  };
  let d = 'M' + round(px[0][0]) + ' ' + round(px[0][1]);
  const last = closed ? n : n - 1;
  for (let i = 0; i < last; i++) {
    const p0 = at(i - 1), p1 = at(i), p2 = at(i + 1), p3 = at(i + 2);
    d += 'C' + round(p1[0] + (p2[0] - p0[0]) / 6) + ' ' + round(p1[1] + (p2[1] - p0[1]) / 6) + ' ' +
      round(p2[0] - (p3[0] - p1[0]) / 6) + ' ' + round(p2[1] - (p3[1] - p1[1]) / 6) + ' ' +
      round(p2[0]) + ' ' + round(p2[1]);
  }
  return d + (closed ? 'Z' : '');
}
function straightPath(points, xs, ys) {
  return points.map(function (p, i) {
    return (i ? 'L' : 'M') + round(xs(p[0])) + ' ' + round(ys(p[1]));
  }).join('');
}

const root = document.getElementById('panels');
const lonScale = 3.517;
const latScale = 3.525;

function drawPanel(index) {
  const isRight = index >= 4;
  const row = index % 4;
  const originX = isRight ? 1161 : 419;
  const topY = 46 + 225 * row;
  const xs = function (lon) { return originX + lon * lonScale; };
  const ys = function (lat) { return topY + (30 - lat) * latScale; };
  const left = xs(-90), right = xs(90), top = ys(30), bottom = ys(-10);

  const g = make('g', root);
  
  

  const clip = make('clipPath', g);
  clip.setAttribute('id', 'clip' + index);
  const clipRect = make('rect', clip);
  clipRect.setAttribute('x', left);
  clipRect.setAttribute('y', top);
  clipRect.setAttribute('width', right - left);
  clipRect.setAttribute('height', bottom - top);

  const body = make('g', g);
  body.setAttribute('clip-path', 'url(#clip' + index + ')');
  
  

  const bg = make('rect', body);
  
  
  bg.setAttribute('x', left);
  bg.setAttribute('y', top);
  bg.setAttribute('width', right - left);
  bg.setAttribute('height', bottom - top);
  bg.setAttribute('fill', levelColors['0']);

  allFills[index].forEach(function (fill) {
    const path = make('path', body);
    
    
    path.setAttribute('d', smoothPath(fill[1], true, xs, ys));
    path.setAttribute('fill', levelColors[String(fill[0])]);
  });

  equatorSegments.forEach(function (seg) {
    const line = make('line', body);
    
    
    line.setAttribute('x1', xs(seg[0]));
    line.setAttribute('x2', xs(seg[1]));
    line.setAttribute('y1', ys(0));
    line.setAttribute('y2', ys(0));
    line.setAttribute('stroke', '#444');
    line.setAttribute('stroke-width', '1.6');
    line.setAttribute('stroke-dasharray', '5 4');
  });
  meridianSegments.forEach(function (seg) {
    const line = make('line', body);
    
    
    line.setAttribute('x1', xs(0));
    line.setAttribute('x2', xs(0));
    line.setAttribute('y1', ys(seg[0]));
    line.setAttribute('y2', ys(seg[1]));
    line.setAttribute('stroke', '#444');
    line.setAttribute('stroke-width', '1.6');
    line.setAttribute('stroke-dasharray', '5 4');
  });

  const geo = make('path', body);
  
  
  geo.setAttribute('d', coastLines.concat(borderLines, lakeLines).map(function (line) { return straightPath(line, xs, ys); }).join(''));
  geo.setAttribute('fill', 'none');
  geo.setAttribute('stroke', '#555');
  geo.setAttribute('stroke-width', '1.8');
  geo.setAttribute('stroke-linejoin', 'round');

  allContours[index].forEach(function (contour) {
    const path = make('path', body);
    
    
    path.setAttribute('d', smoothPath(contour[2], contour[1], xs, ys));
    path.setAttribute('fill', 'none');
    path.setAttribute('stroke', seriesColors[contour[0]]);
    path.setAttribute('stroke-width', '2.1');
  });

  // tick marks
  const ticks = make('g', g);
  
  
  ticks.setAttribute('stroke', '#000');
  function tick(x1, y1, x2, y2, width) {
    const t = make('line', ticks);
    t.setAttribute('x1', x1);
    t.setAttribute('y1', y1);
    t.setAttribute('x2', x2);
    t.setAttribute('y2', y2);
    t.setAttribute('stroke-width', width);
  }
  for (let lon = -90; lon <= 90; lon += 10) {
    const major = lon % 60 === 0;
    const len = major ? 5 : 3;
    tick(xs(lon), top, xs(lon), top - len, major ? 2 : 1.2);
    tick(xs(lon), bottom, xs(lon), bottom + len, major ? 2 : 1.2);
  }
  for (let lat = -10; lat <= 30; lat += 2) {
    const major = lat % 10 === 0;
    const len = major ? 5 : 2.5;
    tick(left, ys(lat), left - len, ys(lat), major ? 2 : 1.2);
    tick(right, ys(lat), right + len, ys(lat), major ? 2 : 1.2);
  }

  const frame = make('rect', g);
  
  
  frame.setAttribute('x', left);
  frame.setAttribute('y', top);
  frame.setAttribute('width', right - left);
  frame.setAttribute('height', bottom - top);
  frame.setAttribute('fill', 'none');
  frame.setAttribute('stroke', '#000');
  frame.setAttribute('stroke-width', '3');

  // title: the first two left panels and first right panel sit at slightly different heights
  const titleBase = [39, 264, 482, 707, 32, 257, 482, 707][index];
  const title = make('text', g);
  
  
  title.setAttribute('x', left - 2);
  title.setAttribute('y', titleBase);
  title.setAttribute('font-size', '35');
  title.textContent = panelTitles[index];

  if (!isRight) {
    latTicks.forEach(function (lat, i) {
      const label = make('text', g);
      
      
      label.setAttribute('x', 74);
      label.setAttribute('y', ys(lat) + 11.5);
      label.setAttribute('font-size', '34');
      label.setAttribute('text-anchor', 'end');
      label.textContent = latTickLabels[i];
    });
  }
  if (row === 3) {
    lonTicks.forEach(function (lon, i) {
      const label = make('text', g);
      
      
      label.setAttribute('x', xs(lon));
      label.setAttribute('y', 917);
      label.setAttribute('font-size', '35');
      label.setAttribute('text-anchor', 'middle');
      label.textContent = lonTickLabels[i];
    });
  }
}
for (let i = 0; i < 8; i++) drawPanel(i);

// colour bar
const barRoot = document.getElementById('colorbar');
const barLeft = 229.5, barStep = 54.9, barTop = 979, barHeight = 23;
const barX = function (boundIndex) { return barLeft + barStep * (boundIndex + 1); };
colorbarColors.forEach(function (color, i) {
  const box = make('rect', barRoot);
  
  
  box.setAttribute('x', barX(i - 1));
  box.setAttribute('y', barTop);
  box.setAttribute('width', barStep);
  box.setAttribute('height', barHeight);
  box.setAttribute('fill', color);
  box.setAttribute('stroke', '#111');
  box.setAttribute('stroke-width', '1.4');
});
colorbarBounds.forEach(function (bound, i) {
  const label = make('text', barRoot);
  
  
  label.setAttribute('x', barX(i));
  label.setAttribute('y', 1031);
  label.setAttribute('font-size', '31');
  label.setAttribute('text-anchor', 'middle');
  label.textContent = colorbarLabels[i];
});
</script>
</body>
</html>
